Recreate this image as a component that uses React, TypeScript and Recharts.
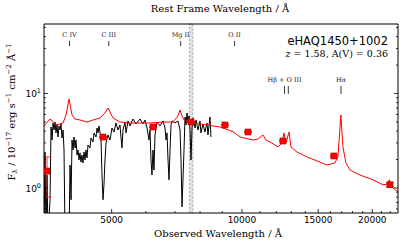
import React from "react";
import {
  ComposedChart,
  Line,
  Scatter,
  XAxis,
  YAxis,
  ErrorBar,
  ReferenceLine,
  ReferenceArea,
} from "recharts";

const REDSHIFT = 1.58;

// red model spectrum (observed wavelength in A, flux in 1e-17 erg/s/cm2/A)
const modelWave = [
  3489, 3603, 3739, 3861, 3923, 3986, 4050, 4115, 4225, 4385, 4528, 4699, 4826, 4904, 4956, 5036,
  5226, 5512, 5813, 6131, 6571, 6930, 7117, 7193, 7270, 7347, 7708, 8302, 8895, 9532, 9895, 10602,
  10889, 11181, 11361, 11606, 12109, 12370, 12503, 12636, 12840, 12978, 13397, 14129, 15136, 15711,
  16394, 16657, 16925, 17107, 17383, 17755, 18730, 20070, 21167, 21737, 21900, 21970, 22323, 22927,
];
const modelFlux = [
  4.53, 5.37, 4.64, 4.87, 5.92, 8.75, 5.92, 5.37, 5.24, 4.99, 5.24, 5.51, 6.22, 7.02, 6.37, 5.51,
  4.99, 4.87, 4.87, 4.87, 4.99, 4.99, 5.78, 6.69, 5.78, 5.24, 4.87, 4.64, 4.42, 3.95, 3.46, 3.22,
  3.3, 3.64, 3.22, 3.07, 2.72, 2.99, 3.82, 2.99, 3.91, 2.72, 2.4, 2.13, 1.88, 1.75,
  1.84, 2.13, 5.92, 2.72, 1.84, 1.55, 1.37, 1.22, 1.08, 1.1, 1.22, 1.08, 1.0, 0.907,
];

// black observed spectrum
const obsWave = [
  3489, 3508, 3527, 3546, 3565, 3603, 3622, 3641, 3661, 3680, 3700, 3719, 3739, 3759, 3779, 3800,
  3820, 3840, 3861, 3881, 3902, 3944, 3986, 4007, 4029, 4050, 4072, 4093, 4115, 4137, 4159, 4181,
  4203, 4225, 4247, 4269, 4293, 4316, 4339, 4362, 4385, 4409, 4456, 4481, 4528, 4553, 4601, 4626,
  4650, 4675, 4699, 4725, 4750, 4775, 4800, 4826, 4852, 4904, 4956, 5009, 5062, 5117, 5171, 5226,
  5254, 5283, 5311, 5368, 5397, 5454, 5512, 5601, 5691, 5813, 5907, 5970, 6034, 6098, 6131, 6164,
  6196, 6230, 6263, 6297, 6364, 6466, 6571, 6641, 6677, 6712, 6748, 6784, 6820, 6856, 6893, 7004,
  7117, 7193, 7231, 7270, 7347, 7387, 7426, 7466, 7506, 7546, 7586, 7626, 7667, 7708, 7791, 7830,
  7916, 7998, 8040, 8127, 8214, 8302, 8345, 8435, 8479,
];
const obsFlux = [
  0.3, 2.4, 0.3, 1.37, 0.3, 0.75, 4.42, 3.22, 4.87, 4.11, 4.99, 3.82, 4.64, 3.46, 4.53, 4.11,
  4.76, 3.38, 4.11, 2.52, 0.3, 0.3, 0.3, 1.75, 0.75, 3.22, 2.52, 3.46, 2.65, 3.22, 2.23, 2.52,
  1.98, 2.35, 1.88, 2.23, 1.84, 2.4, 1.98, 2.52, 2.08, 2.85, 2.65, 3.38, 3.07, 3.82, 3.46, 4.31,
  3.82, 4.53, 3.91, 3.22, 1.37, 0.75, 1.08, 1.98, 2.99, 3.64, 3.22, 4.31, 3.91, 4.87, 4.11, 4.64,
  3.46, 2.65, 4.11, 4.99, 3.82, 5.12, 4.53, 5.37, 4.76, 5.37, 4.76, 5.24, 4.31, 3.22, 4.11, 1.98,
  1.37, 2.52, 1.55, 3.64, 4.99, 4.53, 5.12, 4.31, 3.22, 3.82, 1.98, 1.22, 2.52, 4.64, 5.12, 4.87,
  5.12, 4.11, 1.98, 0.63, 2.52, 5.64, 4.64, 6.22, 4.87, 5.78, 4.11, 1.98, 4.31, 5.51, 4.31, 5.24,
  4.11, 5.12, 3.82, 4.76, 3.91, 4.87, 3.64, 5.64, 3.46,
];

// photometry
const photWave = [3546, 4775, 6230, 7626, 9135, 10325, 12436, 16307, 21970];
const photFlux = [1.51, 3.46, 4.42, 4.99, 4.64, 3.91, 3.14, 2.18, 1.08];
const photErrLo = [0.71, 0.05, 0.05, 0.05, 0.05, 0.05, 0.05, 0.05, 0.05];
const photErrHi = [0.62, 0.05, 0.05, 0.05, 0.05, 0.05, 0.05, 0.05, 0.05];

// emission lines (rest wavelength)
const lineNames = ["C IV", "C III", "Mg II", "O II", "Hβ + O III", "", "Hα"];
const lineRest = [1549, 1909, 2798, 3727, 4861, 4959, 6563];
const lineHigh = [true, true, true, true, false, false, false];

const obsTicks = [4000, 5000, 6000, 7000, 8000, 9000, 10000, 11000, 12000, 13000, 14000, 15000, 16000, 17000, 18000, 19000, 20000, 21000, 22000];
const obsMajor = [5000, 10000, 15000, 20000];
const restTicks: number[] = [];
for (let v = 1400; v <= 8800; v += 100) restTicks.push(v);
const restMajor = [2000, 3000, 4000, 5000, 6000, 7000, 8000];
const fluxTicks = [0.6, 0.7, 0.8, 0.9, 1, 2, 3, 4, 5, 6, 7, 8, 9, 10, 20, 30, 40, 50];
const fluxMajor = [1, 10];

const OBS_DOMAIN = [3489, 22930];
const FLUX_DOMAIN = [0.543, 54.4];

const modelData = modelWave.map((w, i) => ({ w, f: modelFlux[i] }));
const obsData = obsWave.map((w, i) => ({ w, f: obsFlux[i] }));
const photData = photWave.map((w, i) => ({ w, f: photFlux[i], err: [photErrLo[i], photErrHi[i]] }));

const TICK_FONT = "DejaVu Sans";
const SERIF = "DejaVu Serif";

const BottomTick = (props: any) => {
  const { x, y, payload } = props;
  const major = obsMajor.includes(payload.value);
  return (
    <g>
      <line x1={x} x2={x} y1={y} y2={y - (major ? 4 : 2)} stroke="#000" strokeWidth={0.8} />
      {major && (
        <text x={x} y={y + 10} textAnchor="middle" fontSize={9} fontFamily={TICK_FONT} fill="#000">
          {payload.value}
        </text>
      )}
    </g>
  );
};

const TopTick = (props: any) => {
  const { x, y, payload } = props;
  const major = restMajor.includes(payload.value);
  return (
    <g>
      <line x1={x} x2={x} y1={y} y2={y + (major ? 4 : 2)} stroke="#000" strokeWidth={0.6} />
      {major && (
        <text x={x} y={y - 4} textAnchor="middle" fontSize={9} fontFamily={TICK_FONT} fill="#000">
          {payload.value}
        </text>
      )}
    </g>
  );
};

const LeftTick = (props: any) => {
  const { x, y, payload } = props;
  const major = fluxMajor.includes(payload.value);
  return (
    <g>
      <line x1={x} x2={x + (major ? 4 : 2)} y1={y} y2={y} stroke="#000" strokeWidth={0.8} />
      {major && (
        <text x={x - 3} y={y + 4} textAnchor="end" fontSize={9} fontFamily={TICK_FONT} fill="#000">
          10
          <tspan dy={-4} fontSize={6.5}>
            {Math.round(Math.log10(payload.value))}
          </tspan>
        </text>
      )}
    </g>
  );
};

const RightTick = (props: any) => {
  const { x, y, payload } = props;
  const major = fluxMajor.includes(payload.value);
  return <line x1={x} x2={x - (major ? 4 : 2)} y1={y} y2={y} stroke="#000" strokeWidth={0.8} />;
};

const PhotSquare = (props: any) => {
  const { cx, cy } = props;
  return <rect x={cx - 3} y={cy - 3} width={6} height={6} fill="#ff0000" stroke="#b00000" strokeWidth={0.6} />;
};

export default function App() {
  return (
    <div style={{ position: "fixed", left: 0, top: 0, width: 407, height: 242, background: "#fff" }}>
      <ComposedChart width={407} height={242} margin={{ top: 23, right: 8, bottom: 28, left: 43 }}>
        <XAxis
          xAxisId="obs"
          dataKey="w"
          type="number"
          scale="log"
          domain={OBS_DOMAIN}
          allowDataOverflow
          ticks={obsTicks}
          interval={0}
          height={1}
          tickSize={0}
          tickMargin={0}
          tickLine={false}
          tick={<BottomTick />}
          axisLine={{ stroke: "#000", strokeWidth: 1 }}
        />
        <XAxis
          xAxisId="rest"
          orientation="top"
          type="number"
          scale="log"
          domain={[OBS_DOMAIN[0] / (1 + REDSHIFT), OBS_DOMAIN[1] / (1 + REDSHIFT)]}
          allowDataOverflow
          ticks={restTicks}
          interval={0}
          height={1}
          tickSize={0}
          tickMargin={0}
          tickLine={false}
          tick={<TopTick />}
          axisLine={{ stroke: "#000", strokeWidth: 1 }}
        />
        <YAxis
          yAxisId="flux"
          type="number"
          scale="log"
          domain={FLUX_DOMAIN}
          allowDataOverflow
          ticks={fluxTicks}
          interval={0}
          width={1}
          tickSize={0}
          tickMargin={0}
          tickLine={false}
          tick={<LeftTick />}
          axisLine={{ stroke: "#000", strokeWidth: 1 }}
        />
        <YAxis
          yAxisId="fluxR"
          orientation="right"
          type="number"
          scale="log"
          domain={FLUX_DOMAIN}
          allowDataOverflow
          ticks={fluxTicks}
          interval={0}
          width={1}
          tickSize={0}
          tickMargin={0}
          tickLine={false}
          tick={<RightTick />}
          axisLine={{ stroke: "#000", strokeWidth: 1 }}
        />
        <ReferenceArea
          xAxisId="obs"
          yAxisId="flux"
          x1={7560}
          x2={7700}
          fill="#d9d9d9"
          fillOpacity={0.8}
          stroke="#aaaaaa"
          strokeDasharray="2 2"
        />
        <Line
          xAxisId="obs"
          yAxisId="flux"
          data={obsData}
          dataKey="f"
          stroke="#000"
          strokeWidth={1}
          dot={false}
          isAnimationActive={false}
        />
        <Line
          xAxisId="obs"
          yAxisId="flux"
          data={modelData}
          dataKey="f"
          stroke="#ff0000"
          strokeWidth={1}
          dot={false}
          isAnimationActive={false}
        />
        <Scatter
          xAxisId="obs"
          yAxisId="flux"
          data={photData}
          dataKey="f"
          shape={<PhotSquare />}
          isAnimationActive={false}
        >
          <ErrorBar dataKey="err" direction="y" stroke="#ff0000" strokeWidth={0.8} width={4} />
        </Scatter>
        {lineRest.map((r, i) => (
          <ReferenceLine
            key={i}
            xAxisId="obs"
            yAxisId="flux"
            segment={
              lineHigh[i]
                ? [{ x: r * (1 + REDSHIFT), y: 35.9 }, { x: r * (1 + REDSHIFT), y: 31.8 }]
                : [{ x: r * (1 + REDSHIFT), y: 12.0 }, { x: r * (1 + REDSHIFT), y: 9.9 }]
            }
            stroke="#000"
            strokeWidth={0.8}
            label={
              lineNames[i]
                ? { value: lineNames[i], position: "top", offset: 4, fontSize: 6.5, fontFamily: SERIF, fill: "#222" }
                : undefined
            }
          />
        ))}
      </ComposedChart>
      <svg width={407} height={242} style={{ position: "absolute", left: 0, top: 0, pointerEvents: "none" }}>
        <text x={220} y={12} textAnchor="middle" fontSize={10} fontFamily={SERIF} fill="#000">
          Rest Frame Wavelength / Å
        </text>
        <text x={218} y={237} textAnchor="middle" fontSize={10} fontFamily={SERIF} fill="#000">
          Observed Wavelength / Å
        </text>
        <text x={388} y={45} textAnchor="end" fontSize={11.5} fontFamily={TICK_FONT} fill="#000">
          eHAQ1450+1002
        </text>
        <text x={388} y={57} textAnchor="end" fontSize={9.5} fontFamily={SERIF} fill="#000">
          <tspan fontStyle="italic">z</tspan> = 1.58, A(V) = 0.36
        </text>
        <text
          transform="translate(15,112) rotate(-90)"
          textAnchor="middle"
          fontSize={10}
          fontFamily={SERIF}
          fill="#000"
        >
          F<tspan dy={2} fontSize={7}>λ</tspan>
          <tspan dy={-2}> / 10</tspan>
          <tspan dy={-4} fontSize={7}>−17</tspan>
          <tspan dy={4}> erg s</tspan>
          <tspan dy={-4} fontSize={7}>−1</tspan>
          <tspan dy={4}> cm</tspan>
          <tspan dy={-4} fontSize={7}>−2</tspan>
          <tspan dy={4}> Å</tspan>
          <tspan dy={-4} fontSize={7}>−1</tspan>
        </text>
      </svg>
    </div>
  );
}
